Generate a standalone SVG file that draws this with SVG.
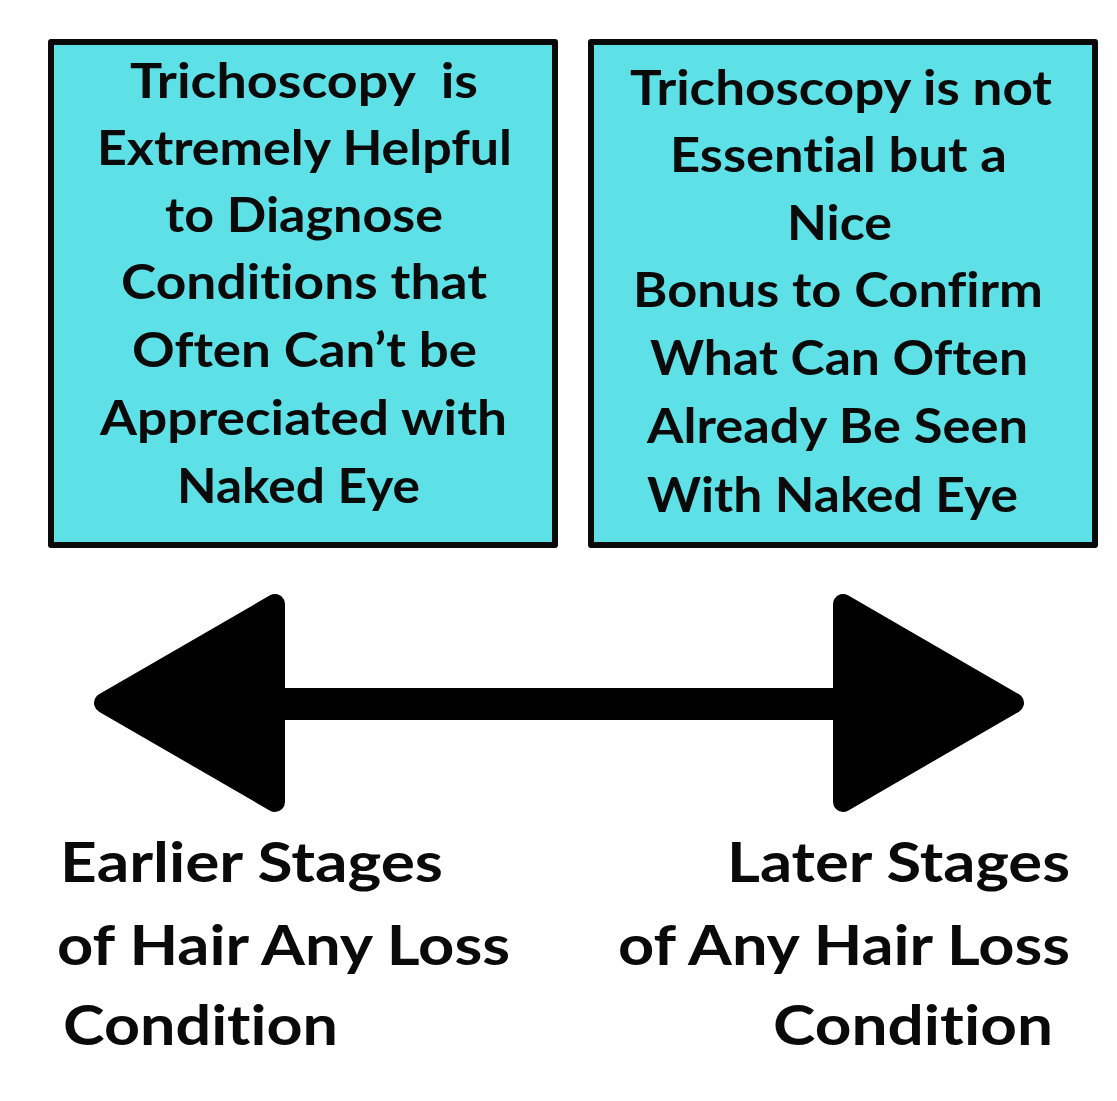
<svg xmlns="http://www.w3.org/2000/svg" width="1117" height="1101" viewBox="0 0 1117 1101">
<style>
.box{fill:#5DE0E6;stroke:#0a0a0a;stroke-width:6;stroke-linejoin:round}
.t{font-family:Lato,"Open Sans","Liberation Sans",sans-serif;font-weight:700;fill:#0a0a0a;font-variant-ligatures:none;font-feature-settings:"liga" 0,"clig" 0,"dlig" 0;white-space:pre}
.bt{font-size:47px}
.lt{font-size:55px}
.arrow{fill:#000;stroke:#000;stroke-width:20;stroke-linejoin:round}
</style>
<rect width="1117" height="1101" fill="#ffffff"/>
<g id="box-left">
<rect class="box" x="51" y="42" width="504" height="503"/>
<text class="t bt" x="130" y="98" textLength="348" lengthAdjust="spacingAndGlyphs" xml:space="preserve">Trichoscopy  is</text>
<text class="t bt" x="97" y="165" textLength="415" lengthAdjust="spacingAndGlyphs">Extremely Helpful</text>
<text class="t bt" x="165" y="232" textLength="278" lengthAdjust="spacingAndGlyphs">to Diagnose</text>
<text class="t bt" x="121" y="299" textLength="366" lengthAdjust="spacingAndGlyphs">Conditions that</text>
<text class="t bt" x="132" y="367" textLength="345" lengthAdjust="spacingAndGlyphs">Often Can’t be</text>
<text class="t bt" x="100" y="435" textLength="407" lengthAdjust="spacingAndGlyphs">Appreciated with</text>
<text class="t bt" x="177" y="503" textLength="243" lengthAdjust="spacingAndGlyphs">Naked Eye</text>
</g>
<g id="box-right">
<rect class="box" x="591" y="42" width="504" height="503"/>
<text class="t bt" x="630" y="105" textLength="422" lengthAdjust="spacingAndGlyphs">Trichoscopy is not</text>
<text class="t bt" x="670" y="172" textLength="337" lengthAdjust="spacingAndGlyphs">Essential but a</text>
<text class="t bt" x="787" y="240" textLength="105" lengthAdjust="spacingAndGlyphs">Nice</text>
<text class="t bt" x="633" y="307" textLength="410" lengthAdjust="spacingAndGlyphs">Bonus to Confirm</text>
<text class="t bt" x="650" y="375" textLength="378" lengthAdjust="spacingAndGlyphs">What Can Often</text>
<text class="t bt" x="647" y="443" textLength="381" lengthAdjust="spacingAndGlyphs">Already Be Seen</text>
<text class="t bt" x="647" y="512" textLength="371" lengthAdjust="spacingAndGlyphs">With Naked Eye</text>
</g>
<g id="connectors">
<rect x="270" y="688" width="578" height="32" fill="#000"/>
<polygon class="arrow" points="104,703 275,604 275,802"/>
<polygon class="arrow" points="843,604 843,802 1014,703"/>
</g>
<g id="label-left">
<text class="t lt" x="60" y="882" textLength="383" lengthAdjust="spacingAndGlyphs">Earlier Stages</text>
<text class="t lt" x="57" y="965" textLength="453" lengthAdjust="spacingAndGlyphs">of Hair Any Loss</text>
<text class="t lt" x="63" y="1045" textLength="275" lengthAdjust="spacingAndGlyphs">Condition</text>
</g>
<g id="label-right">
<text class="t lt" x="727" y="882" textLength="343" lengthAdjust="spacingAndGlyphs">Later Stages</text>
<text class="t lt" x="618" y="965" textLength="452" lengthAdjust="spacingAndGlyphs">of Any Hair Loss</text>
<text class="t lt" x="773" y="1045" textLength="280" lengthAdjust="spacingAndGlyphs">Condition</text>
</g>
</svg>
